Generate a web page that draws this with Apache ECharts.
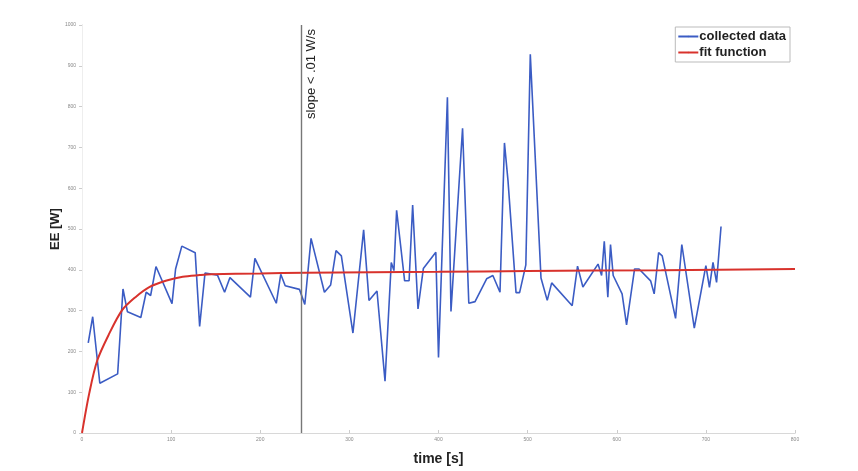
<!DOCTYPE html>
<html>
<head>
<meta charset="utf-8">
<script src="https://cdn.jsdelivr.net/npm/echarts@6/dist/echarts.min.js"></script>
<style>
  html, body { margin: 0; padding: 0; background: #fff; }
  #chart { width: 858px; height: 471px; }
</style>
</head>
<body>
<div id="chart"></div>
<script>
// values
var collectedTime = [7, 12, 20, 40, 46, 51, 66, 72, 77, 83, 101, 105, 112, 127, 132, 138,
  152, 160, 166, 189, 194, 218, 223, 228, 244, 250, 257, 272, 279, 285, 291, 304, 316,
  322, 331, 340, 347, 350, 353, 362, 367, 371, 377, 383, 397, 400, 410, 414, 427, 434,
  441, 454, 461, 469, 474, 478, 487, 491, 498, 503, 515, 522, 527, 550, 556, 562, 579,
  583, 586, 590, 593, 596, 606, 611, 620, 625, 638, 642, 647, 651, 666, 673, 687, 700,
  704, 708, 712, 717]
var collectedPower = [221, 285, 122, 145, 353, 297, 283, 345, 337, 408, 317, 402, 458, 442, 261, 392,
  387, 345, 381, 333, 428, 318, 389, 361, 352, 315, 477, 345, 363, 447, 434, 245, 498,
  325, 348, 127, 418, 398, 546, 373, 373, 559, 304, 403, 443, 185, 823, 298, 747, 318,
  322, 378, 386, 345, 711, 618, 344, 344, 412, 928, 380, 325, 368, 312, 409, 358, 414,
  386, 470, 333, 462, 386, 341, 265, 402, 402, 373, 341, 442, 434, 281, 462, 257, 410,
  357, 418, 369, 506]

var fitTime = [0, 8, 17, 30, 45, 60, 75, 94, 113, 132, 145, 200, 250, 400, 500, 650, 800]
var fitPower = [0, 96, 177, 241, 301, 333, 357, 373, 383, 387, 389, 391, 393, 395, 397, 399, 402]

var slopeTime = 246

function pairs(xs, ys) {
    return xs.map(function (x, i) { return [x, ys[i]] })
}

var chart = echarts.init(document.getElementById('chart'))

var faint = { lineStyle: { color: '#d8d8d8', width: 1 } }
var plain = function (v) { return String(v) }

chart.setOption({
    animation: false,
    backgroundColor: '#fff',
    textStyle: { fontFamily: 'Liberation Sans, Arial, sans-serif' },
    grid: { left: 82, right: 63, top: 25, bottom: 31 },
    legend: {
        orient: 'vertical',
        right: 68,
        top: 27,
        itemWidth: 20,
        itemHeight: 2,
        itemGap: 3,
        padding: [3, 4, 3, 2],
        borderColor: '#bbb',
        borderWidth: 1,
        textStyle: { fontSize: 13, fontWeight: 'bold', color: '#222', padding: [0, 0, 0, -4] },
        data: ['collected data', 'fit function']
    },
    xAxis: [{
        type: 'value',
        min: 0,
        max: 800,
        interval: 100,
        name: 'time [s]',
        nameLocation: 'middle',
        nameGap: 19,
        nameTextStyle: { fontSize: 14, fontWeight: 'bold', color: '#222' },
        axisLine: faint,
        axisTick: { inside: true, length: 3, lineStyle: { color: '#ccc' } },
        axisLabel: { fontSize: 5, color: '#888', margin: 4, formatter: plain },
        splitLine: { show: false }
    }, {
        type: 'value',
        position: 'top',
        min: 0,
        max: 800,
        interval: 100,
        axisLine: faint,
        axisTick: { show: false },
        axisLabel: { show: false },
        splitLine: { show: false }
    }],
    yAxis: [{
        type: 'value',
        min: 0,
        max: 1000,
        interval: 100,
        name: 'EE [W]',
        nameLocation: 'middle',
        nameGap: 20,
        nameMoveOverlap: false,
        nameTextStyle: { fontSize: 13, fontWeight: 'bold', color: '#222' },
        axisLine: { show: true, lineStyle: { color: '#d8d8d8', width: 1 } },
        axisTick: { show: true, length: 3, lineStyle: { color: '#bbb' } },
        axisLabel: { fontSize: 5, color: '#888', margin: 6, formatter: plain },
        splitLine: { show: false }
    }, {
        type: 'value',
        position: 'right',
        min: 0,
        max: 1000,
        interval: 100,
        axisLine: { show: true, lineStyle: { color: '#eee', width: 1 } },
        axisTick: { show: true, inside: true, length: 3, lineStyle: { color: '#ccc' } },
        axisLabel: { show: false },
        splitLine: { show: false }
    }],
    series: [
        {
            name: 'collected data',
            type: 'line',
            symbol: 'none',
            color: '#3b5cc4',
            lineStyle: { color: '#3b5cc4', width: 1.6 },
            data: pairs(collectedTime, collectedPower),
            markLine: {
                silent: true,
                symbol: 'none',
                lineStyle: { color: '#777', width: 1.4, type: 'solid' },
                label: {
                    show: true,
                    position: 'insideEndBottom',
                    formatter: 'slope < .01 W/s',
                    fontSize: 13,
                    color: '#222',
                    distance: 4
                },
                data: [{ xAxis: slopeTime }]
            }
        },
        {
            name: 'fit function',
            type: 'line',
            symbol: 'none',
            smooth: 0.3,
            color: '#d8322c',
            lineStyle: { color: '#d8322c', width: 2 },
            data: pairs(fitTime, fitPower)
        }
    ]
})
</script>
</body>
</html>
